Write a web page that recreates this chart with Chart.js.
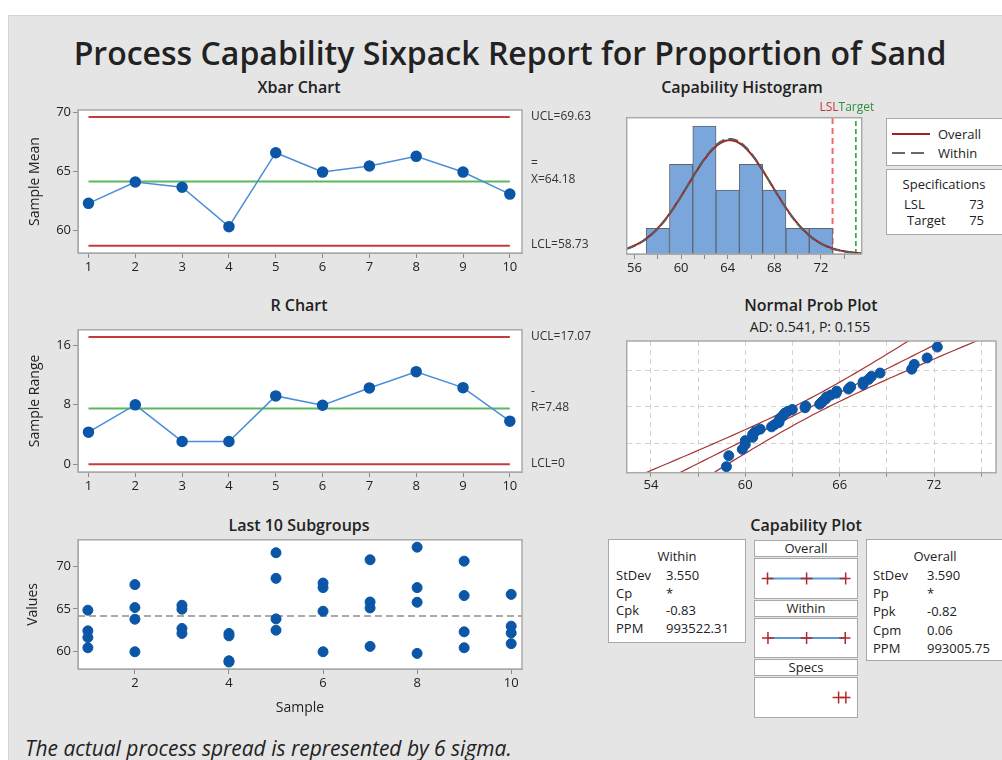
<!DOCTYPE html>
<html>
<head>
<meta charset="utf-8">
<script src="https://cdn.jsdelivr.net/npm/chart.js@4.4.1/dist/chart.umd.min.js"></script>
<style>
  html, body { margin: 0; padding: 0; background: #fff; }
  body { width: 1002px; height: 760px; position: relative; overflow: hidden; font-family: "Open Sans", sans-serif; color: #222; }
  #panel { position: absolute; left: 8px; top: 15px; width: 994px; height: 745px; background: #e5e5e5; border-left: 1px solid #d4d4d4; border-top: 1px solid #d4d4d4; box-sizing: border-box; }
  canvas { position: absolute; }
  .title { position: absolute; transform: translate(-50%, -50%); white-space: nowrap; font-weight: 600; font-size: 16px; }
  .sub { font-weight: 400; font-size: 14px; }
  .box { position: absolute; background: #fff; border: 1px solid #a9a9a9; box-sizing: border-box; font-size: 13px; }
  .box .t { position: absolute; line-height: 16px; white-space: nowrap; }
  .hd { position: absolute; background: #fff; border: 1px solid #a9a9a9; box-sizing: border-box; font-size: 13px; text-align: center; line-height: 15px; }
  #foot { position: absolute; left: 25px; top: 748px; transform: translateY(-50%); font-style: italic; font-size: 21px; white-space: nowrap; }
</style>
</head>
<body>
<div id="panel"></div>
<div id="mainTitle" class="title" style="left:510px;top:52px;font-size:34px">Process Capability Sixpack Report for Proportion of Sand</div>

<div class="title" style="left:299px;top:87px">Xbar Chart</div>
<div class="title" style="left:742px;top:87px">Capability Histogram</div>
<div class="title" style="left:299px;top:305px">R Chart</div>
<div class="title" style="left:811px;top:305px">Normal Prob Plot</div>
<div class="title sub" style="left:810px;top:326px">AD: 0.541, P: 0.155</div>
<div class="title" style="left:299px;top:525px">Last 10 Subgroups</div>
<div class="title" style="left:806px;top:525px">Capability Plot</div>

<canvas id="xbar" width="580" height="172" style="left:20px;top:100px"></canvas>
<canvas id="rchart" width="580" height="172" style="left:20px;top:320px"></canvas>
<canvas id="subs" width="580" height="190" style="left:20px;top:530px"></canvas>
<canvas id="hist" width="260" height="175" style="left:620px;top:100px"></canvas>
<canvas id="prob" width="382" height="160" style="left:620px;top:335px"></canvas>

<div id="legendBox" class="box" style="left:886px;top:118px;width:124px;height:48px">
  <div style="position:absolute;left:5px;top:14px;width:38px;height:2px;background:#a51f1f"></div>
  <div class="t" style="left:51px;top:7px">Overall</div>
  <div style="position:absolute;left:5px;top:33px;width:38px;height:2px;background:repeating-linear-gradient(90deg,#6a6a6a 0 13px,transparent 13px 19px)"></div>
  <div class="t" style="left:51px;top:26px">Within</div>
</div>
<div id="specBox" class="box" style="left:886px;top:169px;width:124px;height:66px"></div>

<div id="withinBox" class="box" style="left:608px;top:539px;width:138px;height:104px"></div>
<div class="hd" style="left:754px;top:540px;width:104px;height:17px">Overall</div>
<div class="box" style="left:754px;top:558px;width:104px;height:41px"></div>
<div class="hd" style="left:754px;top:600px;width:104px;height:17px">Within</div>
<div class="box" style="left:754px;top:618px;width:104px;height:40px"></div>
<div class="hd" style="left:754px;top:659px;width:104px;height:17px">Specs</div>
<div class="box" style="left:754px;top:677px;width:104px;height:41px"></div>
<canvas id="capOverall" width="104" height="41" style="left:754px;top:558px"></canvas>
<canvas id="capWithin" width="104" height="40" style="left:754px;top:618px"></canvas>
<canvas id="capSpecs" width="104" height="41" style="left:754px;top:677px"></canvas>
<div id="overallBox" class="box" style="left:866px;top:539px;width:140px;height:122px"></div>

<div id="foot">The actual process spread is represented by 6 sigma.</div>

<script>
// subgroup measurements, 10 subgroups of 4
const samples = [1, 2, 3, 4, 5, 6, 7, 8, 9, 10];
const subgroups = [
  [64.85, 62.44, 61.67, 60.47],
  [67.84, 65.16, 63.80, 60.00],
  [65.43, 64.97, 62.72, 62.14],
  [62.14, 61.86, 58.95, 58.80],
  [71.56, 68.57, 63.84, 62.52],
  [68.02, 67.49, 64.73, 60.00],
  [70.74, 65.81, 65.12, 60.63],
  [72.21, 67.49, 65.78, 59.81],
  [70.58, 66.56, 62.33, 60.47],
  [66.70, 62.99, 62.20, 60.95],
];
const xbarMeans = [62.32, 64.13, 63.68, 60.34, 66.61, 64.97, 65.48, 66.30, 64.97, 63.10];
const ranges = [4.32, 7.98, 3.07, 3.07, 9.18, 7.93, 10.25, 12.43, 10.29, 5.79];

const xbarUCL = 69.63, xbarCL = 64.18, xbarLCL = 58.73;
const rUCL = 17.07, rCL = 7.48, rLCL = 0;

// histogram bins (width 2)
const binCenters = [58, 60, 62, 64, 66, 68, 70, 72];
const binCounts = [2, 7, 10, 5, 7, 5, 2, 2];
const binWidth = 2;

const stdevWithin = 3.550, stdevOverall = 3.590;
const lsl = 73, target = 75;

const withinLabels = ['StDev', 'Cp', 'Cpk', 'PPM'];
const withinValues = ['3.550', '*', '-0.83', '993522.31'];
const overallLabels = ['StDev', 'Pp', 'Ppk', 'Cpm', 'PPM'];
const overallValues = ['3.590', '*', '-0.82', '0.06', '993005.75'];

// tick labels
const xbarYTicks = [60, 65, 70];
const rYTicks = [0, 8, 16];
const subXTicks = [2, 4, 6, 8, 10];
const histTicks = [56, 58, 60, 62, 64, 66, 68, 70, 72, 74];
const histLabels = [56, 60, 64, 68, 72];
const probTicks = [54, 57, 60, 63, 66, 69, 72, 75];
const probLabels = [54, 60, 66, 72];
const probGridPct = [10, 50, 90];

const dotBlue = '#0b56a6';
const lineBlue = '#4a8ed8';
const limitRed = '#c43b3b';
const centerGreen = '#5cb85c';
const fitRed = '#a83333';

Chart.defaults.font.family = '"Open Sans", sans-serif';
Chart.defaults.color = '#222';

// white plotting area with a grey frame
const framePlugin = {
  id: 'frame',
  beforeDraw(chart) {
    const { ctx, chartArea: a } = chart;
    ctx.save();
    ctx.fillStyle = '#fff';
    ctx.fillRect(a.left, a.top, a.width, a.height);
    ctx.restore();
  },
  afterDraw(chart) {
    const { ctx, chartArea: a } = chart;
    ctx.save();
    ctx.strokeStyle = '#a9a9a9';
    ctx.lineWidth = 1.5;
    ctx.strokeRect(a.left, a.top, a.width, a.height);
    ctx.restore();
  },
};

// control limit captions to the right of the plot
const limitLabels = {
  id: 'limitLabels',
  afterDraw(chart, args, opts) {
    const { ctx, chartArea: a, scales: { y } } = chart;
    ctx.save();
    ctx.font = '12px "Open Sans", sans-serif';
    ctx.fillStyle = '#333';
    ctx.textBaseline = 'middle';
    ctx.textAlign = 'left';
    for (const item of opts.items) {
      const py = y.getPixelForValue(item.value) + item.dy;
      ctx.fillText(item.text, a.right + 9, py);
      if (item.over) ctx.fillText(item.over, a.right + 9, py - 16);
    }
    ctx.restore();
  },
};

// LSL / Target captions above the histogram
const specLabels = {
  id: 'specLabels',
  afterDraw(chart) {
    const { ctx, chartArea: a, scales: { x } } = chart;
    ctx.save();
    ctx.font = '12px "Open Sans", sans-serif';
    ctx.textBaseline = 'middle';
    ctx.textAlign = 'right';
    ctx.fillStyle = '#c0393b';
    ctx.fillText('LSL', x.getPixelForValue(lsl) + 6, a.top - 10);
    ctx.textAlign = 'left';
    ctx.fillStyle = '#2f8f3a';
    ctx.fillText('Target', x.getPixelForValue(lsl) + 6, a.top - 10);
    ctx.restore();
  },
};

const common = {
  responsive: false,
  animation: false,
  devicePixelRatio: 1,
  events: [],
};

function xAxis(min, max, ticks, height, labels) {
  return {
    type: 'linear', min, max, offset: false,
    afterBuildTicks: (s) => { s.ticks = ticks.map((v) => ({ value: v })); },
    afterFit: (s) => { s.height = height; },
    grid: { drawOnChartArea: false, offset: false, tickLength: 5, tickColor: '#8a8a8a' },
    border: { color: '#a9a9a9' },
    ticks: {
      padding: 1, maxRotation: 0, autoSkip: false, font: { size: 13 }, color: '#222',
      callback: (v) => (!labels || labels.includes(v) ? String(v) : ''),
    },
  };
}

function yAxis(min, max, ticks, width, title, titlePad) {
  return {
    type: 'linear', min, max,
    afterBuildTicks: (s) => { s.ticks = ticks.map((v) => ({ value: v })); },
    afterFit: (s) => { s.width = width; },
    grid: { drawOnChartArea: false, tickLength: 5, tickColor: '#8a8a8a' },
    border: { color: '#a9a9a9' },
    ticks: { padding: 2, font: { size: 13 }, color: '#222' },
    title: { display: true, text: title, font: { size: 14 }, color: '#222', padding: { top: titlePad, bottom: 0 } },
  };
}

function limitLine(v, color) {
  return { data: [{ x: 1, y: v }, { x: 10, y: v }], borderColor: color, borderWidth: 2, pointRadius: 0, order: 1 };
}

const noPlugins = { legend: { display: false }, tooltip: { enabled: false } };

// Xbar chart
new Chart(document.getElementById('xbar'), {
  type: 'line',
  data: {
    datasets: [
      {
        data: samples.map((s, i) => ({ x: s, y: xbarMeans[i] })),
        borderColor: lineBlue, borderWidth: 1.5, pointRadius: 5,
        pointBackgroundColor: dotBlue, pointBorderColor: dotBlue, order: 0,
      },
      limitLine(xbarUCL, limitRed),
      limitLine(xbarCL, centerGreen),
      limitLine(xbarLCL, limitRed),
    ],
  },
  options: {
    ...common,
    layout: { padding: { top: 10, right: 78, left: 0, bottom: 0 } },
    scales: {
      x: xAxis(0.776, 10.26, samples, 19),
      y: yAxis(58.11, 70.23, xbarYTicks, 58, 'Sample Mean', 6.6),
    },
    plugins: {
      ...noPlugins,
      limitLabels: {
        items: [
          { value: xbarUCL, dy: -1, text: 'UCL=69.63' },
          { value: xbarCL, dy: -2, text: 'X=64.18', over: '=' },
          { value: xbarLCL, dy: -1, text: 'LCL=58.73' },
        ],
      },
    },
  },
  plugins: [framePlugin, limitLabels],
});

// R chart
new Chart(document.getElementById('rchart'), {
  type: 'line',
  data: {
    datasets: [
      {
        data: samples.map((s, i) => ({ x: s, y: ranges[i] })),
        borderColor: lineBlue, borderWidth: 1.5, pointRadius: 5,
        pointBackgroundColor: dotBlue, pointBorderColor: dotBlue, order: 0,
      },
      limitLine(rUCL, limitRed),
      limitLine(rCL, centerGreen),
      limitLine(rLCL, limitRed),
    ],
  },
  options: {
    ...common,
    layout: { padding: { top: 9, right: 78, left: 0, bottom: 0 } },
    scales: {
      x: xAxis(0.776, 10.26, samples, 20),
      y: yAxis(-1.03, 18.05, rYTicks, 58, 'Sample Range', 6.6),
    },
    plugins: {
      ...noPlugins,
      limitLabels: {
        items: [
          { value: rUCL, dy: -1, text: 'UCL=17.07' },
          { value: rCL, dy: -1, text: 'R=7.48', over: '-' },
          { value: rLCL, dy: -1, text: 'LCL=0' },
        ],
      },
    },
  },
  plugins: [framePlugin, limitLabels],
});

// last 10 subgroups
const subPoints = [];
subgroups.forEach((g, i) => g.forEach((v) => subPoints.push({ x: samples[i], y: v })));
const subX = xAxis(0.79, 10.23, subXTicks, 51);
subX.title = { display: true, text: 'Sample', font: { size: 14 }, color: '#222', padding: { top: 0, bottom: 4 } };
new Chart(document.getElementById('subs'), {
  type: 'scatter',
  data: {
    datasets: [
      { data: subPoints, pointRadius: 5, backgroundColor: dotBlue, borderColor: dotBlue, order: 0 },
      {
        data: [{ x: 0.79, y: xbarCL }, { x: 10.23, y: xbarCL }], showLine: true,
        borderColor: '#8e8e8e', borderWidth: 1.5, borderDash: [7, 4], pointRadius: 0, order: 1,
      },
    ],
  },
  options: {
    ...common,
    layout: { padding: { top: 9, right: 78, left: 0, bottom: 0 } },
    scales: {
      x: subX,
      y: yAxis(57.99, 73.07, xbarYTicks, 58, 'Values', 4.6),
    },
    plugins: noPlugins,
  },
  plugins: [framePlugin],
});

// capability histogram with fitted normal curves
function normalCurve(mean, sd) {
  const pts = [];
  for (let x = 55.3; x <= 75.8; x += 0.1) {
    const z = (x - mean) / sd;
    const count = subPoints.length * binWidth * Math.exp(-0.5 * z * z) / (sd * Math.sqrt(2 * Math.PI));
    pts.push({ x, y: count });
  }
  return pts;
}
const histMax = 10.65;
new Chart(document.getElementById('hist'), {
  type: 'bar',
  data: {
    datasets: [
      { type: 'line', data: normalCurve(xbarCL, stdevWithin), borderColor: '#5c5c5c', borderDash: [10, 4], borderWidth: 2, pointRadius: 0, order: 0 },
      { type: 'line', data: normalCurve(xbarCL, stdevOverall), borderColor: '#a51f1f', borderWidth: 2, pointRadius: 0, order: 1 },
      {
        type: 'bar', data: binCenters.map((c, i) => ({ x: c, y: binCounts[i] })),
        backgroundColor: '#7aa6db', borderColor: '#5d6570', borderWidth: 1,
        barPercentage: 1, categoryPercentage: 1, order: 2,
      },
      { type: 'line', data: [{ x: lsl, y: 0 }, { x: lsl, y: histMax }], borderColor: '#ef6a6a', borderDash: [6, 4], borderWidth: 2, pointRadius: 0, order: 3 },
      { type: 'line', data: [{ x: target, y: 0 }, { x: target, y: histMax }], borderColor: '#1fa834', borderDash: [5, 3], borderWidth: 1.6, pointRadius: 0, order: 3 },
    ],
  },
  options: {
    ...common,
    layout: { padding: { top: 17.7, right: 18.3, left: 6.7, bottom: 0 } },
    scales: {
      x: xAxis(55.33, 75.5, histTicks, 21, histLabels),
      y: { type: 'linear', display: false, min: 0, max: histMax },
    },
    plugins: noPlugins,
  },
  plugins: [framePlugin, specLabels],
});

// normal probability plot
function normInv(p) {
  const a = [-3.969683028665376e+01, 2.209460984245205e+02, -2.759285104469687e+02, 1.383577518672690e+02, -3.066479806614716e+01, 2.506628277459239e+00];
  const b = [-5.447609879822406e+01, 1.615858368580409e+02, -1.556989798598866e+02, 6.680131188771972e+01, -1.328068155288572e+01];
  const c = [-7.784894002430293e-03, -3.223964580411365e-01, -2.400758277161838e+00, -2.549671348156170e+00, 4.374664141464968e+00, 2.938163982698783e+00];
  const d = [7.784695709041462e-03, 3.224671290700398e-01, 2.445134137142996e+00, 3.754408661907416e+00];
  const tail = (q) => (((((c[0] * q + c[1]) * q + c[2]) * q + c[3]) * q + c[4]) * q + c[5]) / ((((d[0] * q + d[1]) * q + d[2]) * q + d[3]) * q + 1);
  if (p < 0.02425) return tail(Math.sqrt(-2 * Math.log(p)));
  if (p > 1 - 0.02425) return -tail(Math.sqrt(-2 * Math.log(1 - p)));
  const q = p - 0.5, r = q * q;
  return (((((a[0] * r + a[1]) * r + a[2]) * r + a[3]) * r + a[4]) * r + a[5]) * q / (((((b[0] * r + b[1]) * r + b[2]) * r + b[3]) * r + b[4]) * r + 1);
}
const sorted = subPoints.map((p) => p.y).sort((m, n) => m - n);
const n = sorted.length;
const probPoints = sorted.map((v, i) => ({ x: v, y: normInv((i + 1 - 0.3) / (n + 0.4)) }));
const zMin = normInv(0.01), zMax = normInv(0.99);
const fitLine = [], bandLo = [], bandHi = [];
for (let z = -2.6; z <= 2.61; z += 0.1) {
  const xc = xbarCL + z * stdevOverall;
  const half = 1.96 * stdevOverall * Math.sqrt(1 / n + z * z / (2 * (n - 1)));
  fitLine.push({ x: xc, y: z });
  bandLo.push({ x: xc - half, y: z });
  bandHi.push({ x: xc + half, y: z });
}
const probX = xAxis(52.46, 75.94, probTicks, 22.3, probLabels);
probX.grid = { drawOnChartArea: true, tickLength: 4, tickColor: '#8a8a8a', color: '#d2d2d2' };
probX.border = { color: '#a9a9a9', dash: [5, 4] };
new Chart(document.getElementById('prob'), {
  type: 'scatter',
  data: {
    datasets: [
      { data: probPoints, pointRadius: 5, backgroundColor: dotBlue, borderColor: dotBlue, order: 0 },
      { data: fitLine, showLine: true, borderColor: fitRed, borderWidth: 1.2, pointRadius: 0, order: 1 },
      { data: bandLo, showLine: true, borderColor: fitRed, borderWidth: 1.2, pointRadius: 0, order: 1 },
      { data: bandHi, showLine: true, borderColor: fitRed, borderWidth: 1.2, pointRadius: 0, order: 1 },
    ],
  },
  options: {
    ...common,
    layout: { padding: { top: 6, right: 3.7, left: 6.7, bottom: 0 } },
    scales: {
      x: probX,
      y: {
        type: 'linear', min: zMin, max: zMax,
        afterBuildTicks: (s) => { s.ticks = probGridPct.map((p) => ({ value: normInv(p / 100) })); },
        afterFit: (s) => { s.width = 0; },
        grid: { drawTicks: false, color: '#d2d2d2' },
        border: { color: '#a9a9a9', dash: [5, 4] },
        ticks: { display: false },
      },
    },
    plugins: noPlugins,
  },
  plugins: [framePlugin],
});

// capability plot: +/- 3 sigma spans and spec limits
function capChart(id, marks, span) {
  const datasets = [];
  if (span) {
    datasets.push({ data: span.map((x) => ({ x, y: 0.5 })), showLine: true, borderColor: '#5b9bd5', borderWidth: 2, pointRadius: 0, order: 1 });
  }
  datasets.push({ data: marks.map((x) => ({ x, y: 0.5 })), pointStyle: 'cross', pointRadius: 6, borderColor: '#b02a2a', borderWidth: 1.5, order: 0 });
  new Chart(document.getElementById(id), {
    type: 'scatter',
    data: { datasets },
    options: {
      ...common,
      layout: { padding: 0 },
      scales: {
        x: { type: 'linear', display: false, min: 51.75, max: 76.28 },
        y: { type: 'linear', display: false, min: 0, max: 1 },
      },
      plugins: noPlugins,
    },
  });
}
const ovLo = xbarCL - 3 * stdevOverall, ovHi = xbarCL + 3 * stdevOverall;
const wiLo = xbarCL - 3 * stdevWithin, wiHi = xbarCL + 3 * stdevWithin;
capChart('capOverall', [ovLo, xbarCL, ovHi], [ovLo, ovHi]);
capChart('capWithin', [wiLo, xbarCL, wiHi], [wiLo, wiHi]);
capChart('capSpecs', [lsl, target], null);

// stat tables
function addText(box, text, left, top, extra) {
  const el = document.createElement('div');
  el.className = 't';
  el.textContent = text;
  el.style.left = left + 'px';
  el.style.top = top + 'px';
  if (extra) Object.assign(el.style, extra);
  box.appendChild(el);
  return el;
}
const withinBox = document.getElementById('withinBox');
addText(withinBox, 'Within', 0, 8, { width: '100%', textAlign: 'center' });
withinLabels.forEach((l, i) => {
  addText(withinBox, l, 7, 27 + i * 17.7);
  addText(withinBox, withinValues[i], 57, 27 + i * 17.7);
});
const overallBox = document.getElementById('overallBox');
addText(overallBox, 'Overall', 0, 8, { width: '136px', textAlign: 'center' });
overallLabels.forEach((l, i) => {
  addText(overallBox, l, 6, 27 + i * 18.2);
  addText(overallBox, overallValues[i], 60, 27 + i * 18.2);
});
const specBox = document.getElementById('specBox');
addText(specBox, 'Specifications', 0, 6, { width: '114px', textAlign: 'center' });
addText(specBox, 'LSL', 17, 26);
addText(specBox, String(lsl), 0, 26, { width: '97px', textAlign: 'right' });
addText(specBox, 'Target', 20, 42);
addText(specBox, String(target), 0, 42, { width: '97px', textAlign: 'right' });

// size headline and footnote to their spans
function fitWidth(el, w) {
  const cur = el.getBoundingClientRect().width;
  const fs = parseFloat(getComputedStyle(el).fontSize);
  el.style.fontSize = (fs * w / cur) + 'px';
}
fitWidth(document.getElementById('mainTitle'), 873);
fitWidth(document.getElementById('foot'), 487);
</script>
</body>
</html>
